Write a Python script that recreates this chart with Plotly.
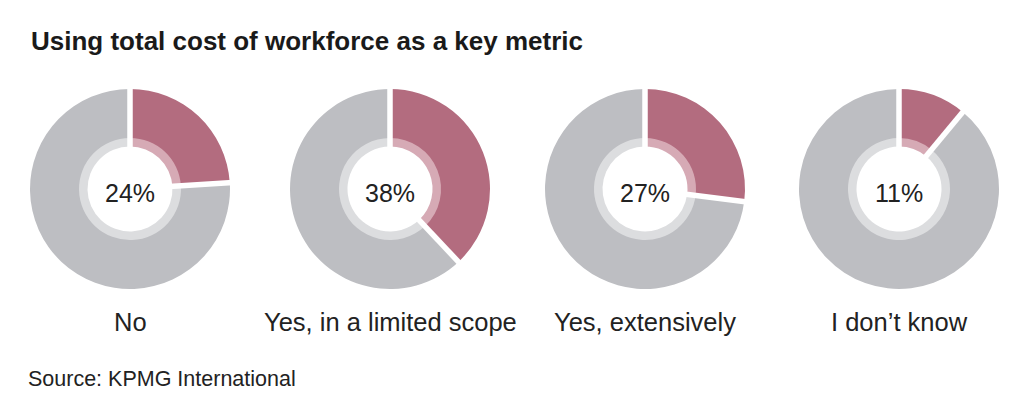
import math
import plotly.graph_objects as go

# data
categories = ["No", "Yes, in a limited scope", "Yes, extensively", "I don\u2019t know"]
shares = [24, 38, 27, 11]

# page is 1036x414, the html body adds an 8px margin around the figure
PAGE_MARGIN = 8
W, H = 1036 - 2 * PAGE_MARGIN, 414 - 2 * PAGE_MARGIN
CENTERS_X = [130, 390, 645, 899]
CENTER_Y = 189
R_OUT, R_MID, R_IN = 100, 51, 42.5

MAUVE = "#B36C7F"
GREY = "#BDBEC2"
MAUVE_LIGHT = "#D6AAB5"
GREY_LIGHT = "#DCDDDF"
FONT = "Liberation Sans, Arial, sans-serif"


def px(x):
    return (x - PAGE_MARGIN) / W


def py(y):
    return 1 - (y - PAGE_MARGIN) / H


def domain(cx, r):
    return dict(x=[px(cx - r), px(cx + r)], y=[py(CENTER_Y + r), py(CENTER_Y - r)])


fig = go.Figure()
shapes = []
annotations = []

for cat, p, cx in zip(categories, shares, CENTERS_X):
    vals = [p, 100 - p]
    # outer ring
    fig.add_trace(go.Pie(
        values=vals, labels=["Share", "Rest"], sort=False, direction="clockwise",
        hole=(R_MID - 1) / R_OUT, domain=domain(cx, R_OUT),
        marker=dict(colors=[MAUVE, GREY], line=dict(width=0)),
        textinfo="none", hoverinfo="skip", showlegend=False,
    ))
    # inner ring
    fig.add_trace(go.Pie(
        values=vals, labels=["Share", "Rest"], sort=False, direction="clockwise",
        hole=R_IN / R_MID, domain=domain(cx, R_MID),
        marker=dict(colors=[MAUVE_LIGHT, GREY_LIGHT], line=dict(width=0)),
        textinfo="none", hoverinfo="skip", showlegend=False,
    ))
    # white separators at slice boundaries
    for ang in [0, 360 * p / 100]:
        t = math.radians(ang)
        shapes.append(dict(
            type="line", xref="paper", yref="paper",
            xsizemode="pixel", ysizemode="pixel",
            xanchor=px(cx), yanchor=py(CENTER_Y),
            x0=(R_IN - 3) * math.sin(t), y0=(R_IN - 3) * math.cos(t),
            x1=(R_OUT + 3) * math.sin(t), y1=(R_OUT + 3) * math.cos(t),
            line=dict(color="white", width=5.5),
        ))
    annotations.append(dict(
        x=px(cx), y=py(CENTER_Y + 4), xref="paper", yref="paper",
        text=f"{p}%", showarrow=False, xanchor="center", yanchor="middle",
        font=dict(size=25, color="#222222", family=FONT),
    ))
    annotations.append(dict(
        x=px(cx), y=py(322), xref="paper", yref="paper",
        text=cat, showarrow=False, xanchor="center", yanchor="middle",
        font=dict(size=25.5, color="#222222", family=FONT),
    ))

annotations.append(dict(
    x=px(29), y=py(41), xref="paper", yref="paper",
    text="<b>Using total cost of workforce as a key metric</b>", showarrow=False,
    xanchor="left", yanchor="middle",
    font=dict(size=26, color="#1a1a1a", family=FONT),
))
annotations.append(dict(
    x=px(26), y=py(379), xref="paper", yref="paper",
    text="Source: KPMG International", showarrow=False,
    xanchor="left", yanchor="middle",
    font=dict(size=21.5, color="#222222", family=FONT),
))

fig.update_layout(
    width=W, height=H,
    margin=dict(l=0, r=0, t=0, b=0),
    paper_bgcolor="white", plot_bgcolor="white",
    shapes=shapes, annotations=annotations,
)

fig.write_html("out.html")
